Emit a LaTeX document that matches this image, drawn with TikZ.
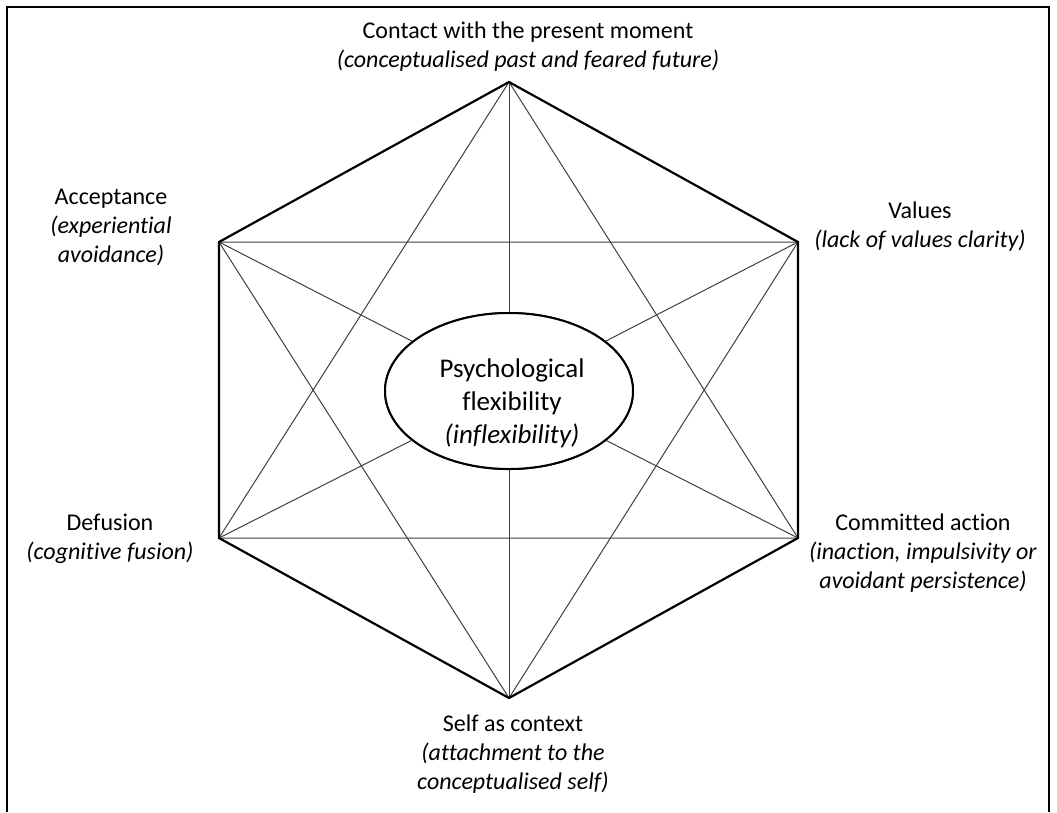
\documentclass[tikz,border=0pt]{standalone}
\usepackage{fontspec}
\setmainfont{Carlito}[RawFeature={-liga,-clig}]
\usetikzlibrary{shapes.geometric}
\begin{document}
\begin{tikzpicture}[x=1pt,y=-1pt,
  hexedge/.style={line width=2.2pt,black,line join=miter},
  thin/.style={line width=1pt,black!75},
  lbl/.style={align=center,font=\fontsize{24}{29}\selectfont,inner sep=0pt},
  centrebox/.style={ellipse,draw=black,line width=2pt,fill=white,minimum width=248pt,minimum height=156pt,inner sep=0pt},
  frame/.style={line width=2.5pt,black}]
\useasboundingbox (0,0) rectangle (1057,812);
\fill[white] (0,0) rectangle (1057,812);
% frame
\draw[frame] (7,812) -- (7,7) -- (1049,7) -- (1049,812);
% vertices
\coordinate (T) at (509,82);
\coordinate (UL) at (219,242);
\coordinate (UR) at (798,242);
\coordinate (LL) at (219,538);
\coordinate (LR) at (798,538);
\coordinate (B) at (509,698);
% centre ellipse
\node[centrebox] (pf) at (509,391) {};
% spokes to ellipse
\draw[thin] (T) -- (pf);
\draw[thin] (B) -- (pf);
\draw[thin] (UL) -- (pf);
\draw[thin] (UR) -- (pf);
\draw[thin] (LL) -- (pf);
\draw[thin] (LR) -- (pf);
% triangles
\draw[thin] (T) -- (LL) -- (LR) -- cycle;
\draw[thin] (B) -- (UL) -- (UR) -- cycle;
% hexagon
\draw[hexedge] (T) -- (UR) -- (LR) -- (B) -- (LL) -- (UL) -- cycle;
% ellipse redraw on top
\node[centrebox] at (pf) {};
\node[align=center,font=\fontsize{27}{33}\selectfont,inner sep=0pt] (pftext) at (512,403) {Psychological\\flexibility\\\textit{(inflexibility)}};
% labels
\node[lbl] (lT) at (528,47) {Contact with the present moment\\\textit{(conceptualised past and feared future)}};
\node[lbl] (lUL) at (111,227) {Acceptance\\\textit{(experiential}\\\textit{avoidance)}};
\node[lbl] (lUR) at (920,227) {Values\\\textit{(lack of values clarity)}};
\node[lbl] (lLL) at (110,539) {Defusion\\\textit{(cognitive fusion)}};
\node[lbl] (lLR) at (923,553) {Committed action\\\textit{(inaction, impulsivity or}\\\textit{avoidant persistence)}};
\node[lbl] (lB) at (513,754) {Self as context\\\textit{(attachment to the}\\\textit{conceptualised self)}};
\end{tikzpicture}
\end{document}
